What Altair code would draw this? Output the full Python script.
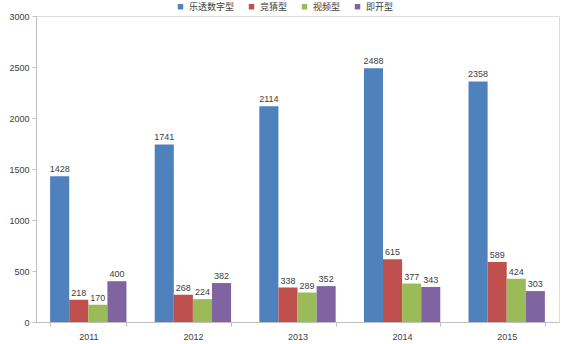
import altair as alt
import pandas as pd

years = ["2011", "2012", "2013", "2014", "2015"]
series = ["乐透数字型", "竞猜型", "视频型", "即开型"]
colors = ["#4F81BD", "#C0504D", "#9BBB59", "#8064A2"]
lotto = [1428, 1741, 2114, 2488, 2358]
quiz = [218, 268, 338, 615, 589]
video = [170, 224, 289, 377, 424]
instant = [400, 382, 352, 343, 303]

rows = []
for name, vals in zip(series, [lotto, quiz, video, instant]):
    for y, v in zip(years, vals):
        rows.append({"year": y, "type": name, "value": v})
df = pd.DataFrame(rows)

x = alt.X("year:N", title=None, sort=years,
          scale=alt.Scale(paddingInner=0.27, paddingOuter=0.135),
          axis=alt.Axis(labelAngle=0, tickBand="extent", labelFontSize=9,
                        labelColor="#404040", domainColor="#BFBFBF",
                        tickColor="#BFBFBF", tickSize=4, labelPadding=6,
                        labelFont="Liberation Sans"))
xoff = alt.XOffset("type:N", sort=series)

bars = alt.Chart(df).mark_bar().encode(
    x=x,
    xOffset=xoff,
    y=alt.Y("value:Q", title=None,
            scale=alt.Scale(domain=[0, 3000], nice=False),
            axis=alt.Axis(values=[0, 500, 1000, 1500, 2000, 2500, 3000],
                          format="d", grid=False, labelFontSize=9,
                          labelColor="#404040", domainColor="#BFBFBF",
                          tickColor="#BFBFBF", tickSize=4, labelPadding=3,
                          labelFont="Liberation Sans")),
    color=alt.Color("type:N", sort=series,
                    scale=alt.Scale(domain=series, range=colors),
                    legend=alt.Legend(title=None, orient="none",
                                      direction="horizontal",
                                      legendX=140, legendY=-14, padding=0,
                                      symbolType="square", symbolSize=30,
                                      labelFontSize=9, labelColor="#404040",
                                      labelFont="Noto Sans CJK SC",
                                      columnPadding=12, symbolStrokeWidth=0)),
)

labels = alt.Chart(df).mark_text(dy=-7, fontSize=9, color="#404040",
                                 font="Liberation Sans").encode(
    x=x,
    xOffset=xoff,
    y="value:Q",
    text="value:Q",
)

chart = (bars + labels).properties(
    width=523, height=306,
    autosize=alt.AutoSizeParams(type="none"),
    padding={"left": 36, "top": 16, "right": 12, "bottom": 22},
).configure_view(stroke="transparent", strokeWidth=0).configure(background="white")

chart.save("out.html", embed_options={"renderer": "svg", "actions": False})
